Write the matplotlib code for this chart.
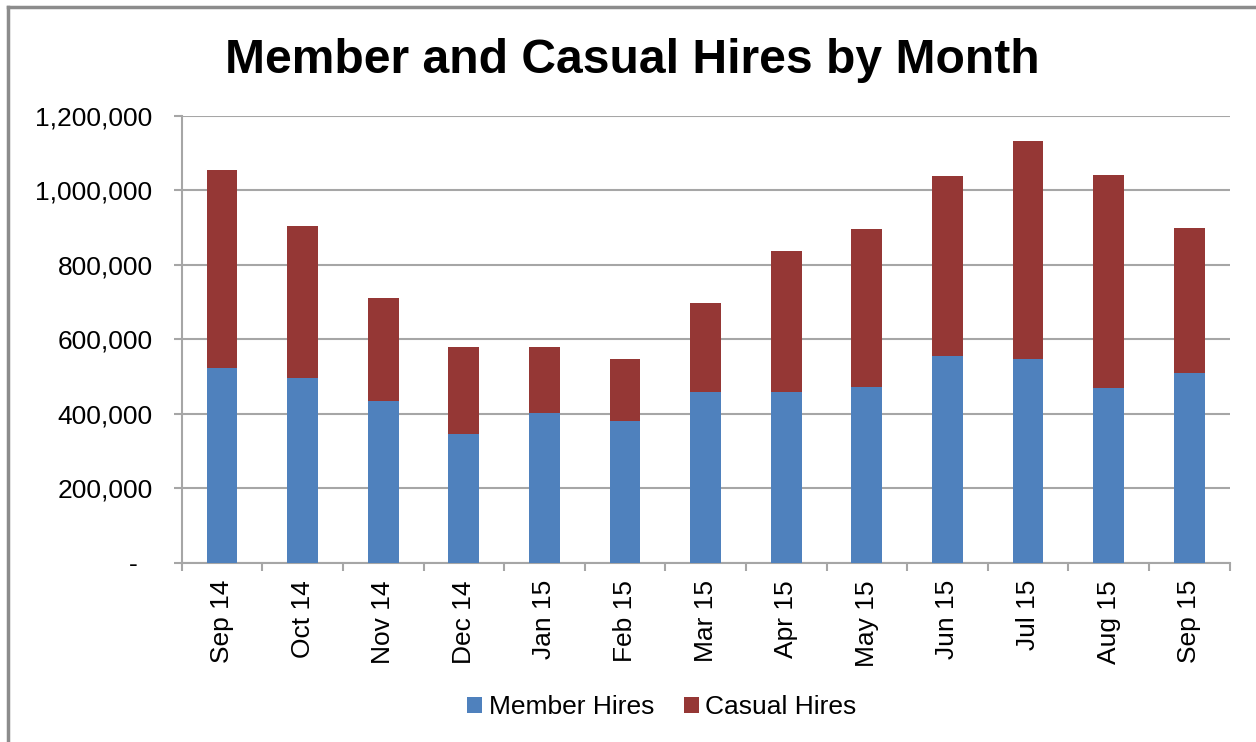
import matplotlib
matplotlib.use("Agg")
import matplotlib.pyplot as plt
from matplotlib.lines import Line2D
from matplotlib.ticker import FuncFormatter
import numpy as np

# values
months = ["Sep 14", "Oct 14", "Nov 14", "Dec 14", "Jan 15", "Feb 15", "Mar 15",
          "Apr 15", "May 15", "Jun 15", "Jul 15", "Aug 15", "Sep 15"]
member_hires = [524000, 496000, 433000, 345000, 401000, 380000, 457000,
                457000, 473000, 556000, 548000, 468000, 508000]
casual_hires = [531000, 408000, 278000, 233000, 179000, 168000, 241000,
                381000, 424000, 483000, 584000, 573000, 391000]

BLUE = "#4F81BD"
RED = "#953735"
GRID = "#a6a6a6"

plt.rcParams["font.family"] = ["Liberation Sans", "DejaVu Sans"]

W, H = 1256, 742
fig = plt.figure(figsize=(W / 100, H / 100), dpi=100)

# plot area in pixel terms
left, right, top, bottom = 181.7, 1229.5, 115.7, 562.7
ax = fig.add_axes([left / W, 1 - bottom / H, (right - left) / W, (bottom - top) / H])

x = np.arange(len(months))
ax.bar(x, member_hires, width=0.38, color=BLUE, label="Member Hires", zorder=3)
ax.bar(x, casual_hires, width=0.38, bottom=member_hires, color=RED,
       label="Casual Hires", zorder=3)

ax.set_xlim(-0.5, len(months) - 0.5)
ax.set_ylim(0, 1200000)
ax.set_yticks(np.arange(0, 1200001, 200000))


def fmt(v, pos):
    if v == 0:
        return "-  "
    return f"{int(v):,}"


ax.yaxis.set_major_formatter(FuncFormatter(fmt))
ax.grid(axis="y", color=GRID, linewidth=1.5, zorder=0)

ax.set_xticks(x)
ax.set_xticklabels(months, rotation=90)
ax.set_xticks(np.arange(-0.5, len(months)), minor=True)
ax.tick_params(axis="x", which="major", length=0, pad=12.5, labelsize=19)
ax.tick_params(axis="x", which="minor", length=6, width=1.5, color=GRID, direction="out")
ax.tick_params(axis="y", length=6, width=1.5, color=GRID, pad=15, labelsize=19)

for s in ["top", "right"]:
    ax.spines[s].set_visible(False)
for s in ["left", "bottom"]:
    ax.spines[s].set_color(GRID)
    ax.spines[s].set_linewidth(1.5)

fig.text(632 / W, 1 - 72.7 / H, "Member and Casual Hires by Month",
         ha="center", va="baseline", fontsize=34.6, fontweight="bold")

fig.legend(loc="center", bbox_to_anchor=(662 / W, 1 - 707 / H), ncol=2,
           frameon=False, fontsize=19, handlelength=0.55, handleheight=0.55,
           handletextpad=0.25, columnspacing=1.15)

# outer chart border (top and left visible in the reference)
fig.add_artist(Line2D([8 / W, 8 / W], [0, 1 - 7 / H], color="#8c8c8c", linewidth=2.5))
fig.add_artist(Line2D([8 / W, 1], [1 - 7 / H, 1 - 7 / H], color="#8c8c8c", linewidth=2.5))

fig.savefig("out.png", dpi=100)
